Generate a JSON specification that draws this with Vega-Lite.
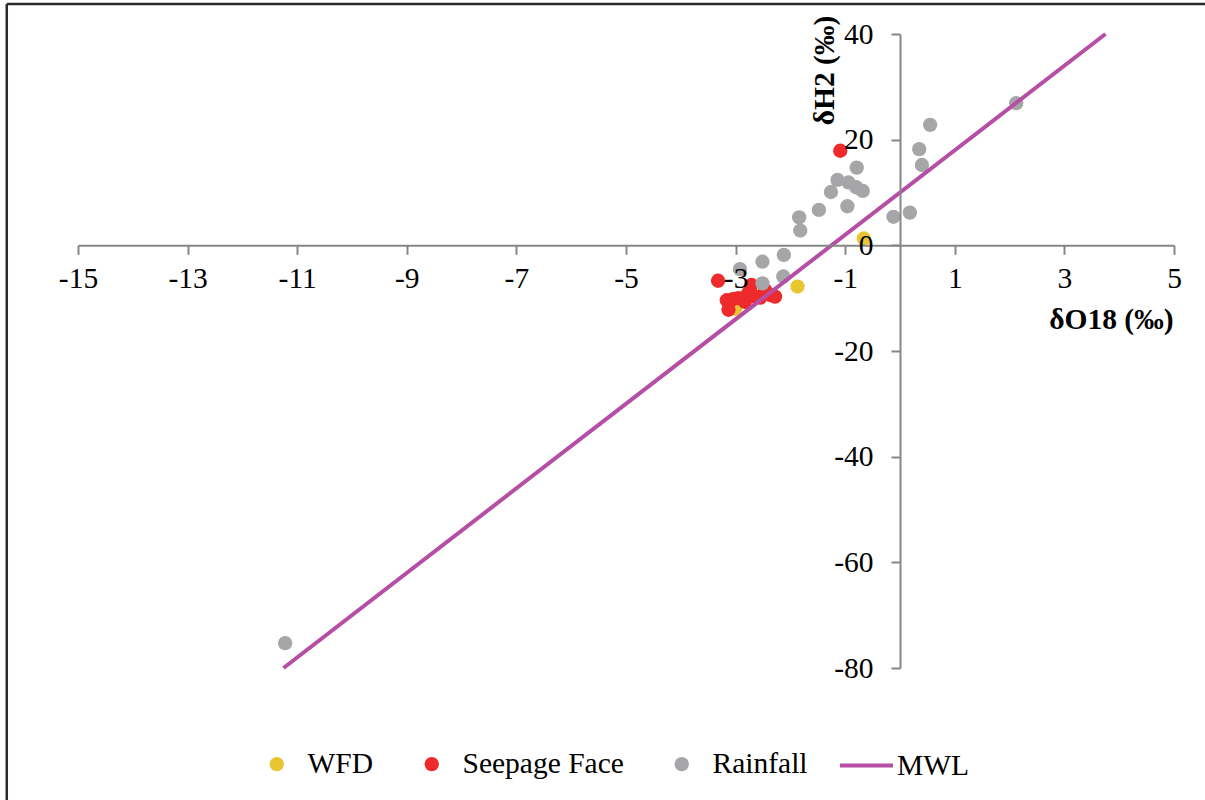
{
  "$schema": "https://vega.github.io/schema/vega-lite/v6.json",
  "width": 1096,
  "height": 634,
  "autosize": {"type": "none"},
  "padding": {"left": 78, "top": 34, "right": 31, "bottom": 132},
  "background": "white",
  "config": {
    "view": {"stroke": null},
    "font": "Liberation Serif"
  },
  "datasets": {
    "points": [
      {"series": "WFD", "x": -3.01, "y": -12.0},
      {"series": "WFD", "x": -1.87, "y": -7.8},
      {"series": "WFD", "x": -0.66, "y": 1.3},
      {"series": "Seepage Face", "x": -1.09, "y": 17.9},
      {"series": "Seepage Face", "x": -3.32, "y": -6.7},
      {"series": "Seepage Face", "x": -3.16, "y": -10.4},
      {"series": "Seepage Face", "x": -3.13, "y": -12.2},
      {"series": "Seepage Face", "x": -3.05, "y": -10.2},
      {"series": "Seepage Face", "x": -2.95, "y": -10.0},
      {"series": "Seepage Face", "x": -2.83, "y": -10.7},
      {"series": "Seepage Face", "x": -2.77, "y": -9.1},
      {"series": "Seepage Face", "x": -2.71, "y": -7.5},
      {"series": "Seepage Face", "x": -2.65, "y": -9.7},
      {"series": "Seepage Face", "x": -2.55, "y": -9.9},
      {"series": "Seepage Face", "x": -2.46, "y": -8.5},
      {"series": "Seepage Face", "x": -2.37, "y": -9.4},
      {"series": "Seepage Face", "x": -2.28, "y": -9.7},
      {"series": "Rainfall", "x": -11.22, "y": -75.3},
      {"series": "Rainfall", "x": -2.92, "y": -4.5},
      {"series": "Rainfall", "x": -2.51, "y": -3.1},
      {"series": "Rainfall", "x": -2.12, "y": -1.8},
      {"series": "Rainfall", "x": -2.13, "y": -5.9},
      {"series": "Rainfall", "x": -2.51, "y": -7.2},
      {"series": "Rainfall", "x": -1.82, "y": 2.8},
      {"series": "Rainfall", "x": -1.84, "y": 5.3},
      {"series": "Rainfall", "x": -1.48, "y": 6.7},
      {"series": "Rainfall", "x": -1.26, "y": 10.1},
      {"series": "Rainfall", "x": -1.14, "y": 12.4},
      {"series": "Rainfall", "x": -0.94, "y": 11.9},
      {"series": "Rainfall", "x": -0.80, "y": 11.0},
      {"series": "Rainfall", "x": -0.68, "y": 10.3},
      {"series": "Rainfall", "x": -0.96, "y": 7.4},
      {"series": "Rainfall", "x": -0.79, "y": 14.7},
      {"series": "Rainfall", "x": -0.12, "y": 5.4},
      {"series": "Rainfall", "x": 0.18, "y": 6.2},
      {"series": "Rainfall", "x": 0.35, "y": 18.2},
      {"series": "Rainfall", "x": 0.40, "y": 15.2},
      {"series": "Rainfall", "x": 0.55, "y": 22.8},
      {"series": "Rainfall", "x": 2.12, "y": 26.9}
    ],
    "mwl": [
      {"series": "MWL", "x": -11.25, "y": -80},
      {"series": "MWL", "x": 3.75, "y": 40}
    ],
    "frame": [
      {"x": -16.3, "y": -130, "x2": -16.3, "y2": 45.67},
      {"x": -16.3, "y": 45.67, "x2": 8, "y2": 45.67}
    ]
  },
  "layer": [
    {
      "data": {"name": "frame"},
      "mark": {"type": "rule", "color": "#2b2b2b", "strokeWidth": 2.5, "clip": false},
      "encoding": {
        "x": {"field": "x", "type": "quantitative", "scale": {"domain": [-15, 5], "nice": false, "zero": false}},
        "x2": {"field": "x2"},
        "y": {"field": "y", "type": "quantitative", "scale": {"domain": [-80, 40], "nice": false, "zero": false}},
        "y2": {"field": "y2"}
      }
    },
    {
      "data": {"name": "points"},
      "mark": {"type": "point", "shape": "circle", "filled": true, "size": 205, "opacity": 1},
      "encoding": {
        "x": {
          "field": "x",
          "type": "quantitative",
          "scale": {"domain": [-15, 5], "nice": false, "zero": false},
          "axis": {
            "orient": "bottom",
            "offset": -422.7,
            "values": [-15, -13, -11, -9, -7, -5, -3, -1, 1, 3, 5],
            "labelExpr": "datum.value + ''",
            "grid": false,
            "domainColor": "#868686",
            "domainWidth": 2,
            "tickColor": "#868686",
            "tickWidth": 2,
            "tickSize": 9,
            "labelFont": "Liberation Serif",
            "labelFontSize": 29.5,
            "labelColor": "#000000",
            "labelBaseline": "alphabetic",
            "labelPadding": 33,
            "labelAngle": 0,
            "labelFlush": false,
            "labelOverlap": false,
            "title": "δO18 (‰)",
            "titleFont": "Liberation Serif",
            "titleFontSize": 29.5,
            "titleFontWeight": "bold",
            "titleColor": "#000000",
            "titleAlign": "right",
            "titleBaseline": "alphabetic",
            "titleX": 1095,
            "titleY": 83,
            "zindex": 1
          }
        },
        "y": {
          "field": "y",
          "type": "quantitative",
          "scale": {"domain": [-80, 40], "nice": false, "zero": false},
          "axis": {
            "orient": "left",
            "offset": -822,
            "values": [-80, -60, -40, -20, 0, 20, 40],
            "labelExpr": "datum.value + ''",
            "grid": false,
            "domainColor": "#868686",
            "domainWidth": 2,
            "tickColor": "#868686",
            "tickWidth": 2,
            "tickSize": 9,
            "labelFont": "Liberation Serif",
            "labelFontSize": 29.5,
            "labelColor": "#000000",
            "labelPadding": 18,
            "labelFlush": false,
            "labelOverlap": false,
            "title": "δH2 (‰)",
            "titleFont": "Liberation Serif",
            "titleFontSize": 29.5,
            "titleFontWeight": "bold",
            "titleColor": "#000000",
            "titleAngle": 270,
            "titleAlign": "center",
            "titleBaseline": "alphabetic",
            "titleX": -67,
            "titleY": 36,
            "zindex": 1
          }
        },
        "fill": {
          "field": "series",
          "type": "nominal",
          "sort": null,
          "scale": {"domain": ["WFD", "Seepage Face", "Rainfall"], "range": ["#E8C631", "#EE2A2A", "#A6A6A8"]},
          "legend": {
            "orient": "none",
            "legendX": 184,
            "legendY": 715,
            "direction": "horizontal",
            "title": null,
            "padding": 0,
            "symbolType": "circle",
            "symbolSize": 205,
            "symbolStrokeWidth": 0,
            "labelFont": "Liberation Serif",
            "labelFontSize": 29.5,
            "labelColor": "#000000",
            "labelOffset": 16,
            "labelLimit": 400,
            "columnPadding": 43
          }
        }
      }
    },
    {
      "data": {"name": "mwl"},
      "mark": {"type": "line", "strokeWidth": 4},
      "encoding": {
        "x": {"field": "x", "type": "quantitative", "scale": {"domain": [-15, 5], "nice": false, "zero": false}},
        "y": {"field": "y", "type": "quantitative", "scale": {"domain": [-80, 40], "nice": false, "zero": false}},
        "stroke": {
          "field": "series",
          "type": "nominal",
          "scale": {"domain": ["MWL"], "range": ["#B54EA4"]},
          "legend": {
            "orient": "none",
            "legendX": 760,
            "legendY": 703,
            "direction": "horizontal",
            "title": null,
            "padding": 0,
            "symbolType": "stroke",
            "symbolSize": 2809,
            "symbolStrokeWidth": 4,
            "labelFont": "Liberation Serif",
            "labelFontSize": 29.5,
            "labelColor": "#000000",
            "labelOffset": 2,
            "labelLimit": 400
          }
        }
      }
    }
  ]
}
